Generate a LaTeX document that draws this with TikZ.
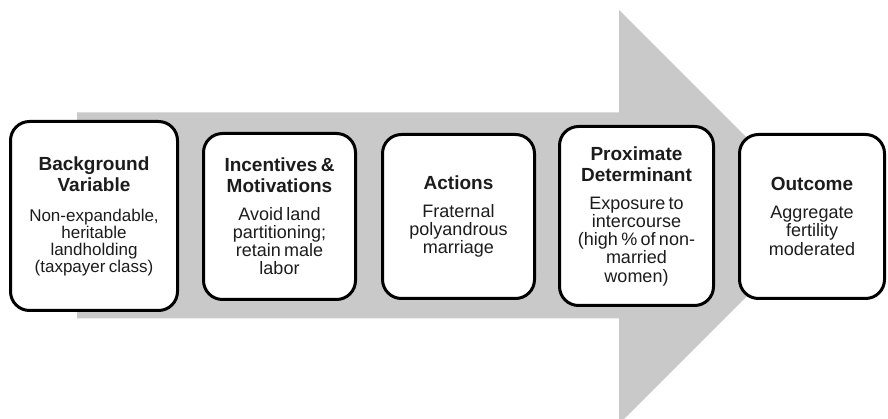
\documentclass[tikz,border=0pt]{standalone}
\usepackage{fontspec}
\setmainfont{Liberation Sans}
\definecolor{flowgray}{RGB}{201,201,201}
\definecolor{ink}{RGB}{28,28,28}
% heading and body text of a stage box
\newcommand\stagehead[1]{\fontsize{19}{21}\selectfont\bfseries #1\par}
\newcommand\stagebody[4]{\vspace{#1}\fontsize{#2}{#3}\selectfont\mdseries #4\par}
\tikzset{
  stage/.style={draw=black, line width=3pt, rounded corners=19pt, fill=white,
    align=center, inner sep=0pt, text=ink},
}
\begin{document}
\begin{tikzpicture}[x=1pt,y=-1pt]
  \useasboundingbox (0,0) rectangle (888,419);
  \clip (0,0) rectangle (888,419);
  % broad block arrow behind the stages
  \fill[flowgray] (77,112.5) -- (619,112.5) -- (619,10) -- (826,217)
    -- (619,424) -- (619,318.5) -- (77,318.5) -- cycle;
  % stages
  \node[stage, minimum width=167pt, minimum height=189pt, text width=160pt] (bg) at (94,216)
    {\stagehead{Background\\Variable}\stagebody{13pt}{17}{17}{Non-expandable,\\heritable\\landholding\\(taxpayer class)}};
  \node[stage, minimum width=152pt, minimum height=166pt, text width=146pt] (inc) at (279.5,216.5)
    {\stagehead{Incentives \&\\Motivations}\stagebody{9.5pt}{18}{18.2}{Avoid land\\partitioning;\\retain male\\labor}};
  \node[stage, minimum width=152pt, minimum height=164pt, text width=146pt] (act) at (458.5,216.5)
    {\stagehead{Actions}\stagebody{9.5pt}{18}{18.2}{Fraternal\\polyandrous\\marriage}};
  \node[stage, minimum width=154pt, minimum height=179pt, text width=148pt] (prox) at (636.5,216)
    {\stagehead{Proximate\\Determinant}\stagebody{10pt}{18}{18.2}{Exposure to\\intercourse\\(high \% of non-\\married\\women)}};
  \node[stage, minimum width=145pt, minimum height=164pt, text width=140pt] (out) at (812,216.5)
    {\stagehead{Outcome}\stagebody{9.5pt}{18}{18.2}{Aggregate\\fertility\\moderated}};
\end{tikzpicture}
\end{document}
